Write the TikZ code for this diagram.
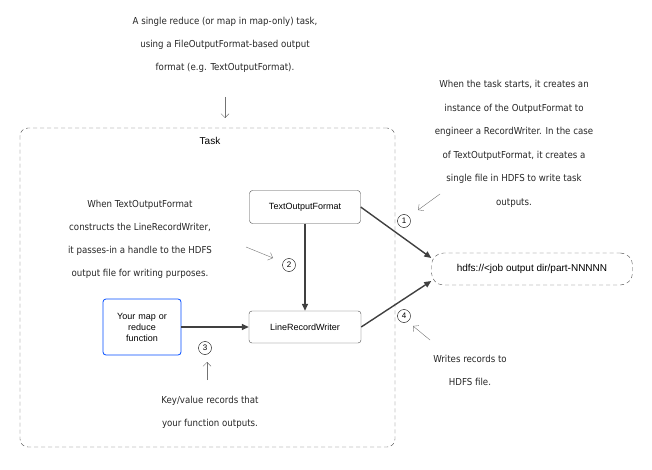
\documentclass[tikz,border=0pt]{standalone}
\usepackage{fontspec}
\setmainfont{Liberation Sans}
\newfontfamily\hand{DejaVu Sans Condensed}
\usetikzlibrary{arrows.meta}
\begin{document}
\begin{tikzpicture}[x=1pt,y=-1pt,
  box/.style={draw=black!70,rounded corners=3pt,fill=white,font=\fontsize{9}{11}\selectfont,align=center},
  num/.style={draw,circle,inner sep=1pt,minimum size=13pt,font=\fontsize{8}{9}\selectfont},
  note/.style={font=\hand\fontsize{9.6}{23}\selectfont,align=center,text=black!85},
  conn/.style={draw=black!75,line width=1.4pt,-{Triangle[length=7pt,width=6pt]}},
  pt/.style={draw=black!55,-{Straight Barb[length=4pt]}},
  dsh/.style={draw=black!70,dash pattern=on 4pt off 3pt}]
\useasboundingbox (0,0) rectangle (652,470);
\node[dsh,rounded corners=8pt,minimum width=375pt,minimum height=319pt] (task) at (207.5,287.5) {};
\node[font=\fontsize{10}{12}\selectfont] (tl) at (210,141) {Task};
\node[box,minimum width=111pt,minimum height=33pt] (tof) at (305,207) {TextOutputFormat};
\node[box,minimum width=112pt,minimum height=32pt] (lrw) at (305,327) {LineRecordWriter};
\node[box,draw=blue!70!cyan,line width=0.8pt,minimum width=78pt,minimum height=56pt,text width=70pt] (map) at (142,327) {Your map or\\reduce\\function};
\node[dsh,rounded corners=12pt,minimum width=201pt,minimum height=32pt,font=\fontsize{10}{12}\selectfont] (hdfs) at (532,269) {hdfs://<job output dir/part-NNNNN};
\draw[conn] (tof.east) -- (hdfs.west|-0,258);
\draw[conn] (lrw.east) -- (hdfs.west|-0,281);
\draw[conn] (tof) -- (lrw);
\draw[conn] (map) -- (lrw);
\node[num] (n1) at (404,221) {1};
\node[num] (n2) at (289,265) {2};
\node[num] (n3) at (205,348) {3};
\node[num] (n4) at (404,316) {4};
\node[note] (t1) at (225,45) {A single reduce (or map in map-only) task,\\using a FileOutputFormat-based output\\format (e.g. TextOutputFormat).};
\coordinate (a1) at (225,97); \coordinate (b1) at (225,118);
\draw[pt] (a1) -- (b1);
\node[note,font=\hand\fontsize{9.6}{23.5}\selectfont] (t2) at (514,144) {When the task starts, it creates an\\instance of the OutputFormat to\\engineer a RecordWriter. In the case\\of TextOutputFormat, it creates a\\single file in HDFS to write task\\outputs.};
\coordinate (a2) at (440,194); \coordinate (b2) at (418,210);
\draw[pt] (a2) -- (b2);
\node[note] (t3) at (140,239) {When TextOutputFormat\\constructs the LineRecordWriter,\\it passes-in a handle to the HDFS\\output file for writing purposes.};
\coordinate (a3) at (246,247); \coordinate (b3) at (273,258);
\draw[pt] (a3) -- (b3);
\node[note] (t4) at (210,412) {Key/value records that\\your function outputs.};
\coordinate (a4) at (207,380); \coordinate (b4) at (207,362);
\draw[pt] (a4) -- (b4);
\node[note] (t5) at (470,370) {Writes records to\\HDFS file.};
\coordinate (a5) at (430,340); \coordinate (b5) at (413,326);
\draw[pt] (a5) -- (b5);
\end{tikzpicture}
\end{document}
